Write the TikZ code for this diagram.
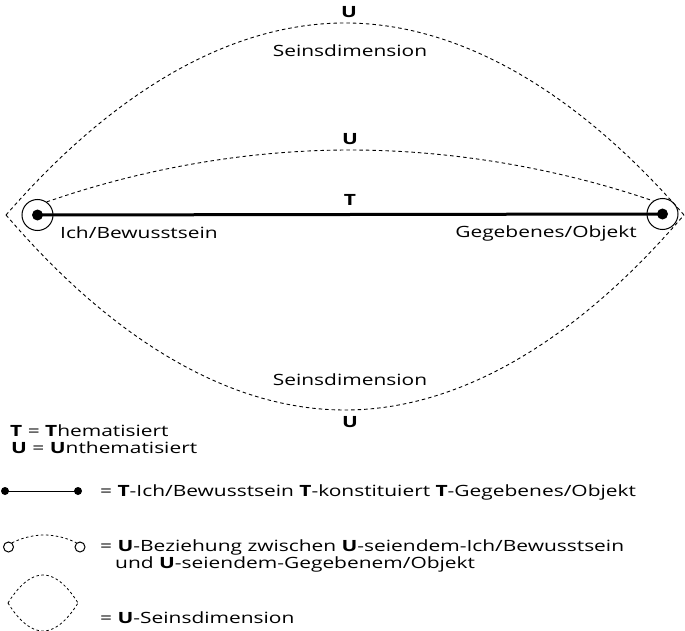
\documentclass[tikz,border=0pt]{standalone}
\usepackage{fontspec}
\setmainfont[FakeStretch=1.35]{Open Sans}
\begin{document}
\begin{tikzpicture}[x=1pt,y=1pt,
  lbl/.style={font=\fontsize{15.5}{18}\selectfont, inner sep=0pt},
  udash/.style={line width=0.9pt, dash pattern=on 3.5pt off 3pt},
  ldash/.style={line width=0.8pt, dash pattern=on 2.5pt off 2.5pt},
  ring/.style={circle, draw, line width=1pt, minimum size=31pt, inner sep=0pt},
  bigdot/.style={circle, fill, minimum size=11pt, inner sep=0pt},
  smalldot/.style={circle, fill, minimum size=8pt, inner sep=0pt},
  smallring/.style={circle, draw, line width=1pt, minimum size=10pt, inner sep=0pt},
  tline/.style={line width=3pt},
  legline/.style={line width=1pt}]
\useasboundingbox (0,0) rectangle (685,-631);

% main nodes
\node[ring] (L) at (37.5,-215) {};
\node[ring] (R) at (662.5,-214) {};
\node[bigdot] (Ld) at (37.5,-215) {};
\node[bigdot] (Rd) at (662.5,-214) {};
\draw[tline] (Ld.center) -- (Rd.center);

% outer lens
\coordinate (OL) at (6,-215);
\coordinate (OR) at (684,-215);
\coordinate (OT) at (345,-23);
\coordinate (OB) at (345,-410);
\draw[udash] (OL) parabola bend (OT) (OR);
\draw[udash] (OL) parabola bend (OB) (OR);

% inner arc
\coordinate (IT) at (350,-150);
\draw[udash] (L.55) parabola bend (IT) (R.125);

% labels
\node[lbl, anchor=base] (u1) at (349,-18) {\textbf{U}};
\node[lbl, anchor=base] (s1) at (350,-57) {Seinsdimension};
\node[lbl, anchor=base] (u2) at (350,-145) {\textbf{U}};
\node[lbl, anchor=base] (t1) at (350,-206) {\textbf{T}};
\node[lbl, anchor=base west] (ich) at (60,-238) {Ich/Bewusstsein};
\node[lbl, anchor=base east] (geg) at (637,-237) {Gegebenes/Objekt};
\node[lbl, anchor=base] (s2) at (350,-385) {Seinsdimension};
\node[lbl, anchor=base] (u3) at (350,-427) {\textbf{U}};

% legend
\node[lbl, anchor=base west] (lt) at (10,-436) {\textbf{T} = \textbf{T}hematisiert};
\node[lbl, anchor=base west] (lu) at (11,-453) {\textbf{U} = \textbf{U}nthematisiert};

\node[smalldot] (a1) at (5,-491) {};
\node[smalldot] (a2) at (78,-491) {};
\draw[legline] (a1.center) -- (a2.center);
\node[lbl, anchor=base west] (l1) at (100,-496) {= \textbf{T}-Ich/Bewusstsein \textbf{T}-konstituiert \textbf{T}-Gegebenes/Objekt};

\node[smallring] (b1) at (8.5,-547) {};
\node[smallring] (b2) at (80,-547) {};
\coordinate (bt) at (44.25,-535);
\draw[ldash] (b1.50) parabola bend (bt) (b2.130);
\node[lbl, anchor=base west] (l2) at (100,-551) {= \textbf{U}-Beziehung zwischen \textbf{U}-seiendem-Ich/Bewusstsein};
\node[lbl, anchor=base west] (l2b) at (115,-568) {und \textbf{U}-seiendem-Gegebenem/Objekt};

\coordinate (cL) at (8,-603);
\coordinate (cR) at (78,-603);
\coordinate (cT) at (43,-575);
\coordinate (cB) at (43,-631);
\draw[ldash] (cL) parabola bend (cT) (cR);
\draw[ldash] (cL) parabola bend (cB) (cR);
\node[lbl, anchor=base west] (l3) at (100,-623) {= \textbf{U}-Seinsdimension};
\end{tikzpicture}
\end{document}
